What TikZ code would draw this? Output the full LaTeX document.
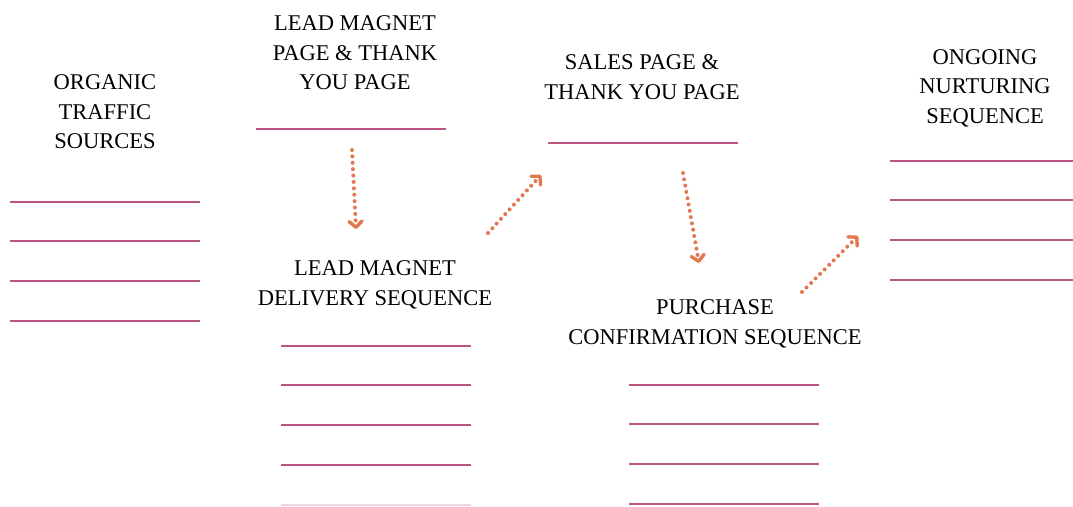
\documentclass[tikz,border=0pt]{standalone}
\usepackage{fontspec}
\setmainfont{Liberation Serif}
\usepackage{tikz}
\usetikzlibrary{arrows.meta}
\definecolor{rule}{RGB}{190,84,130}
\definecolor{rulepale}{RGB}{242,214,226}
\definecolor{arrowc}{RGB}{226,120,80}

\begin{document}
\begin{tikzpicture}
		[x=1pt, y=-1pt, thick]
		\useasboundingbox (0,0) rectangle (1073,506);
		\tikzset{title/.style={align=center, font=\fontsize{22.5}{29.5}\selectfont, inner sep=0pt},
			blank/.style={draw=rule, line width=1.2pt},
			flow/.style={draw=arrowc, line width=4pt, line cap=round, dash pattern=on 0pt off 6.4pt,
				-{Straight Barb[length=6pt, width=13pt, line width=3.4pt, round]}}}
		% headings
		\node [title](organic) at (105,112) {ORGANIC\\TRAFFIC\\SOURCES};
		\node [title](leadpage) at (355,53) {LEAD MAGNET\\PAGE \& THANK\\YOU PAGE};
		\node [title](sales) at (642,77) {SALES PAGE \&\\THANK YOU PAGE};
		\node [title](ongoing) at (985,88) {ONGOING\\NURTURING\\SEQUENCE};
		\node [title](delivery) at (375,285) {LEAD MAGNET\\DELIVERY SEQUENCE};
		\node [title](purchase) at (715,324) {PURCHASE\\CONFIRMATION SEQUENCE};
		
		% blank lines under each heading
		\foreach \y in {202, 241, 281, 321}
		\draw [blank] (10,\y) -- (200,\y);
		\draw [blank] (256,129) -- (446,129);
		\draw [blank] (548,143) -- (738,143);
		\foreach \y in {346, 385, 425, 465}
		\draw [blank] (281,\y) -- (471,\y);
		\draw [blank, draw=rulepale] (281,505) -- (471,505);
		\foreach \y in {385, 424, 464, 504}
		\draw [blank] (629,\y) -- (819,\y);
		\foreach \y in {161, 200, 240, 280}
		\draw [blank] (890,\y) -- (1073,\y);
		
		% arrow ends
		\coordinate (a1) at (352,150);
		\coordinate (b1) at (356,229);
		\coordinate (a2) at (488,233);
		\coordinate (b2) at (541,175);
		\coordinate (a3) at (683,173);
		\coordinate (b3) at (699,263);
		\coordinate (a4) at (802,292);
		\coordinate (b4) at (858,236);
		\draw [flow] (a1) -- (b1);
		\draw [flow] (a2) -- (b2);
		\draw [flow] (a3) -- (b3);
		\draw [flow] (a4) -- (b4);
		\end{tikzpicture}
\end{document}
